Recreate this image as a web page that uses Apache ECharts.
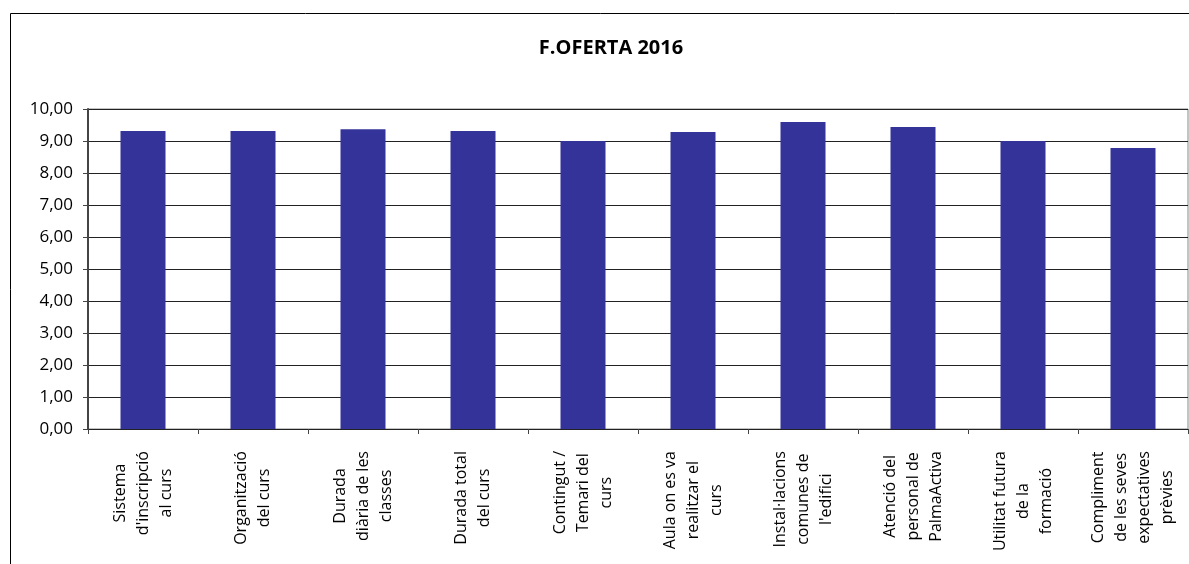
<!DOCTYPE html>
<html>
<head>
<meta charset="utf-8">
<script src="https://cdn.jsdelivr.net/npm/echarts@6/dist/echarts.min.js"></script>
<style>
html, body { margin: 0; padding: 0; background: #fff; }
#main { width: 1189px; height: 564px; }
</style>
</head>
<body>
<div id="main"></div>
<script>
var categories = [
    'Sistema\nd\'inscripció\nal curs',
    'Organització\ndel curs',
    'Durada\ndiària de les\nclasses',
    'Durada total\ndel curs',
    'Contingut /\nTemari del\ncurs',
    'Aula on es va\nrealitzar el\ncurs',
    'Instal·lacions\ncomunes de\nl\'edifici',
    'Atenció del\npersonal de\nPalmaActiva',
    'Utilitat futura\nde la\nformació',
    'Compliment\nde les seves\nexpectatives\nprèvies'
];
var values = [9.31, 9.31, 9.37, 9.31, 9.00, 9.28, 9.59, 9.44, 9.00, 8.78];

var myChart = echarts.init(document.getElementById('main'));

var option = {
    backgroundColor: '#fff',
    animation: false,
    textStyle: { fontFamily: 'Open Sans' },
    title: {
        text: 'F.OFERTA 2016',
        left: 606,
        top: 33,
        textAlign: 'center',
        textStyle: { fontSize: 20, fontWeight: 'bold', color: '#000', fontFamily: 'Open Sans' }
    },
    graphic: [{
        type: 'rect',
        shape: { x: 10.5, y: 13.5, width: 1300, height: 700 },
        style: { fill: 'none', stroke: '#000', lineWidth: 1 },
        silent: true
    }],
    grid: { left: 88, right: 1, top: 109, bottom: 135, show: true, borderColor: '#888', borderWidth: 1 },
    xAxis: {
        type: 'category',
        data: categories,
        axisLine: { lineStyle: { color: '#222' } },
        axisTick: { show: true, length: 5, alignWithLabel: false, lineStyle: { color: '#444' } },
        axisLabel: {
            rotate: 90,
            interval: 0,
            margin: 22,
            color: '#000',
            fontSize: 16,
            lineHeight: 23,
            formatter: function (v) {
                return v.split('\n').map(function (s) { return '{c|' + s + '}'; }).join('\n');
            },
            rich: { c: { align: 'center', fontSize: 16, lineHeight: 23, color: '#000' } }
        }
    },
    yAxis: {
        type: 'value',
        min: 0,
        max: 10,
        interval: 1,
        axisLine: { show: true, lineStyle: { color: '#444', width: 2 } },
        axisTick: { show: true, length: 5, lineStyle: { color: '#444' } },
        axisLabel: {
            color: '#000',
            fontSize: 17,
            margin: 15,
            formatter: function (v) { return v.toFixed(2).replace('.', ','); }
        },
        splitLine: { lineStyle: { color: '#222', width: 1 } }
    },
    series: [{
        type: 'bar',
        data: values,
        barWidth: 45,
        itemStyle: { color: '#333399' }
    }]
};

myChart.setOption(option);
</script>
</body>
</html>
